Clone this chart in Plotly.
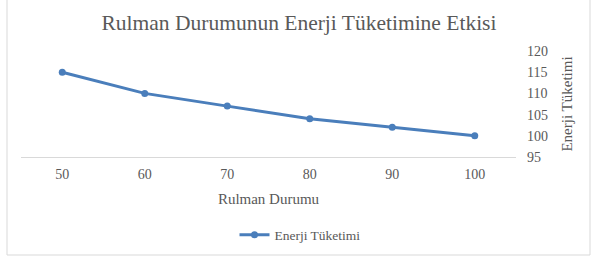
import plotly.graph_objects as go

categories = ["50", "60", "70", "80", "90", "100"]
energy = [115, 110, 107, 104, 102, 100]
series_name = "Enerji Tüketimi"
title_text = "Rulman Durumunun Enerji Tüketimine Etkisi"
x_title = "Rulman Durumu"
y_title = "Enerji Tüketimi"

W, H = 598, 262
L, R, T, B = 21, 82, 51, 105
pw, ph = W - L - R, H - T - B

def px_x(px):
    return (px - L) / pw

def px_y(py):
    return (H - B - py) / ph

FONT = "Liberation Serif"
GRAY = "#595959"
BLUE = "#4A7EBB"

fig = go.Figure()
fig.add_trace(go.Scatter(
    x=categories, y=energy, name=series_name, mode="lines+markers",
    line=dict(color=BLUE, width=3), marker=dict(color=BLUE, size=7),
))

fig.update_layout(
    width=W, height=H,
    margin=dict(l=L, r=R, t=T, b=B),
    paper_bgcolor="white", plot_bgcolor="white",
    font=dict(family=FONT, color=GRAY, size=14),
    title=dict(text=title_text, x=0.5, xanchor="center", y=1 - 22 / H, yanchor="middle",
               font=dict(family=FONT, size=21.5, color=GRAY)),
    showlegend=True,
    legend=dict(orientation="h", x=px_x(300), xanchor="center", y=px_y(235), yanchor="middle",
                font=dict(family=FONT, size=13.5, color=GRAY), itemwidth=30),
    xaxis=dict(type="category", range=[-0.5, 5.5], showgrid=False, showline=True,
               linecolor="#D9D9D9", linewidth=1, ticks="", tickfont=dict(size=14, color=GRAY),
               ticklabelstandoff=4,
               title=dict(text=x_title, font=dict(size=15, color=GRAY), standoff=12)),
    yaxis=dict(side="right", range=[95, 120], dtick=5, showgrid=False, showline=False,
               zeroline=False, ticks="", tickfont=dict(size=14, color=GRAY),
               ticklabelstandoff=10,
               title=dict(text=y_title, font=dict(size=15, color=GRAY), standoff=14)),
    shapes=[dict(type="rect", xref="paper", yref="paper",
                 x0=px_x(7), x1=px_x(590), y0=px_y(255), y1=px_y(-2),
                 line=dict(color="#D9D9D9", width=1), fillcolor="rgba(0,0,0,0)", layer="below")],
)

fig.write_html("out.html")
